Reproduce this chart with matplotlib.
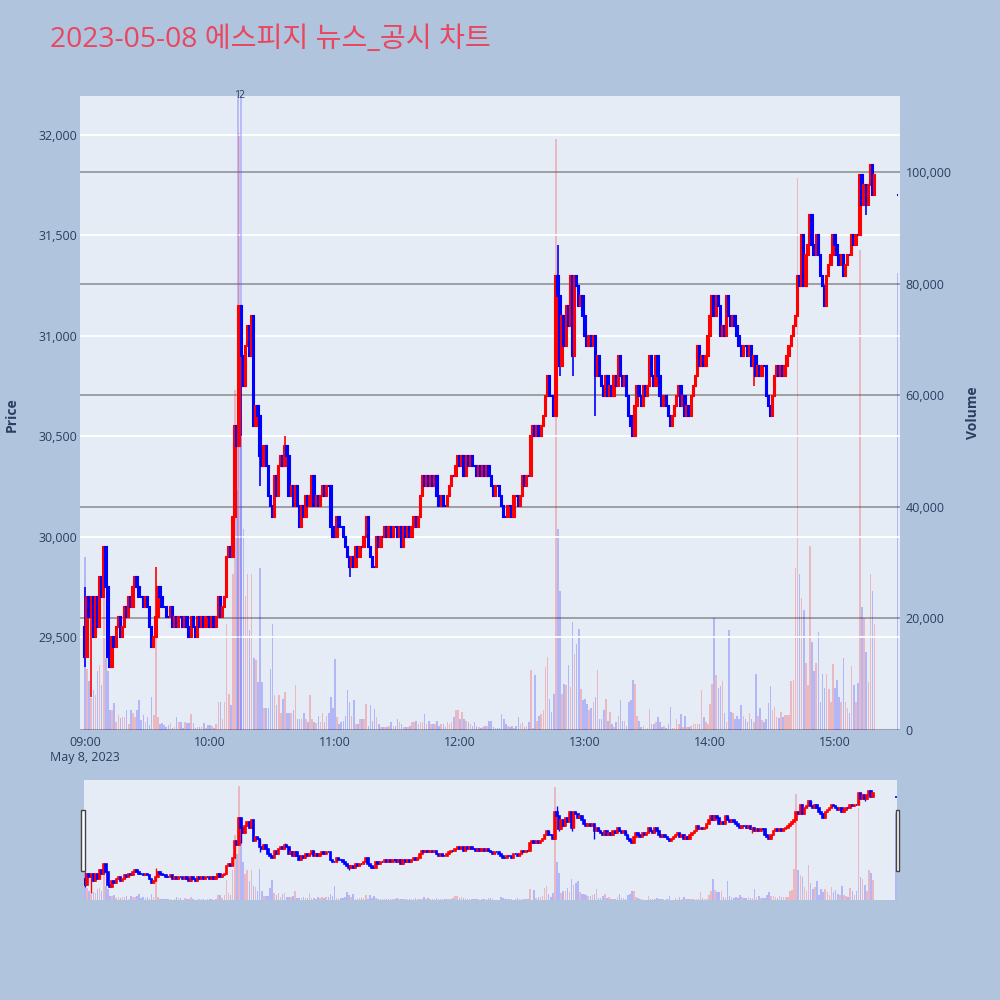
import numpy as np
import matplotlib
matplotlib.use("Agg")
import matplotlib.pyplot as plt
from matplotlib.patches import Rectangle
from matplotlib.ticker import FuncFormatter
import matplotlib.transforms as mtransforms

plt.rcParams["font.family"] = ["Open Sans", "Noto Sans CJK KR", "DejaVu Sans"]

title = "2023-05-08 에스피지 뉴스_공시 차트"

# 1-minute closes, minute 0 = 09:00
first_open = 29550
close_09 = [29400, 29700, 29600, 29700, 29500, 29700, 29550, 29800, 29700, 29950,
            29750, 29400, 29350, 29500, 29450, 29550, 29600, 29500, 29550, 29650,
            29600, 29700, 29650, 29750, 29800, 29750, 29700, 29700, 29650, 29700,
            29650, 29550, 29450, 29500, 29600, 29750, 29700, 29650, 29650, 29600,
            29600, 29650, 29550, 29600, 29550, 29600, 29600, 29550, 29600, 29550,
            29500, 29600, 29550, 29500, 29600, 29550, 29600, 29550, 29600, 29600]
close_10 = [29550, 29600, 29550, 29600, 29700, 29600, 29650, 29700, 29900, 29950,
            29900, 30100, 30550, 30450, 31150, 30900, 30750, 30950, 31050, 30900,
            31100, 30550, 30650, 30600, 30400, 30350, 30450, 30350, 30200, 30150,
            30100, 30300, 30200, 30350, 30400, 30350, 30450, 30400, 30200, 30250,
            30150, 30250, 30150, 30050, 30150, 30100, 30200, 30150, 30200, 30300,
            30150, 30200, 30150, 30200, 30250, 30200, 30250, 30250, 30050, 30000]
close_11 = [30000, 30100, 30050, 30050, 30000, 29950, 29900, 29850, 29900, 29850,
            29950, 29900, 29950, 29950, 30000, 30100, 29950, 29900, 29850, 29850,
            30000, 29950, 30000, 30000, 30050, 30000, 30050, 30000, 30050, 30050,
            30000, 30050, 29950, 30050, 30000, 30050, 30000, 30050, 30100, 30050,
            30100, 30200, 30300, 30250, 30300, 30250, 30300, 30250, 30300, 30200,
            30150, 30200, 30150, 30150, 30200, 30250, 30300, 30300, 30350, 30400]
close_12 = [30350, 30400, 30300, 30400, 30350, 30400, 30350, 30350, 30300, 30350,
            30300, 30350, 30300, 30350, 30300, 30250, 30200, 30250, 30250, 30200,
            30150, 30100, 30100, 30150, 30150, 30100, 30200, 30200, 30150, 30200,
            30300, 30250, 30300, 30300, 30500, 30550, 30500, 30550, 30500, 30550,
            30600, 30700, 30800, 30700, 30700, 30600, 31300, 31200, 30850, 31100,
            30950, 31150, 31050, 31300, 30900, 31300, 31250, 31150, 31200, 31100]
close_13 = [31000, 30950, 31000, 30950, 31000, 30800, 30900, 30800, 30750, 30700,
            30800, 30700, 30750, 30700, 30800, 30750, 30900, 30800, 30750, 30800,
            30700, 30600, 30550, 30500, 30650, 30750, 30700, 30650, 30750, 30700,
            30750, 30900, 30800, 30750, 30900, 30800, 30700, 30650, 30700, 30650,
            30600, 30550, 30600, 30650, 30700, 30750, 30650, 30700, 30600, 30650,
            30600, 30700, 30750, 30800, 30950, 30850, 30900, 30850, 30900, 31000]
close_14 = [31100, 31200, 31100, 31200, 31150, 31000, 31050, 31000, 31200, 31100,
            31050, 31100, 31050, 31000, 30950, 30900, 30950, 30950, 30900, 30950,
            30850, 30900, 30800, 30850, 30800, 30850, 30850, 30700, 30650, 30600,
            30700, 30800, 30850, 30800, 30850, 30800, 30850, 30900, 30950, 31000,
            31050, 31100, 31300, 31250, 31500, 31250, 31400, 31450, 31600, 31450,
            31400, 31500, 31400, 31300, 31250, 31150, 31300, 31350, 31400, 31500]
close_15 = [31450, 31400, 31350, 31400, 31300, 31350, 31400, 31400, 31500, 31450,
            31500, 31500, 31800, 31650, 31750, 31650, 31750, 31850, 31700, 31800]
auction_minute = 390          # 15:30 closing auction
auction_price = 31700

# long wicks (minute -> price)
wick_high = {0: 29750, 34: 29850, 96: 30500, 227: 31450}
wick_low = {0: 29350, 3: 29200, 75: 30500, 84: 30250, 127: 29800,
            228: 30800, 234: 30800, 245: 30600, 321: 30750, 375: 31600}

# volume, thousands of shares
vol_09 = [31, 11, 8.7, 5.7, 7.2, 6.3, 10.5, 11.7, 8.1, 32.6,
          12.9, 10.5, 3.6, 3.6, 4.8, 1.5, 2.7, 2.1, 2.4, 2.4,
          3.6, 1.0, 3.6, 3.0, 2.4, 3.6, 5.4, 1.8, 2.7, 1.5,
          2.4, 0.9, 6.0, 2.7, 20, 2.4, 1.0, 1.2, 0.9, 0.6,
          0.9, 1.2, 0.3, 0.6, 2.4, 1.5, 1.5, 0.3, 1.5, 1.2,
          1.2, 2.8, 1.2, 0.4, 0.6, 0.6, 0.6, 1.2, 0.3, 0.9]
vol_10 = [0.9, 0.8, 0.3, 1.1, 5, 5, 2, 5, 19, 6.5,
          4.4, 28, 61, 43, 107, 56, 36, 24, 28, 18,
          28, 13, 12.6, 8.6, 29, 8.6, 4, 4, 4, 11,
          19, 6.3, 4.4, 6.3, 3, 5.6, 6.8, 3, 3, 3,
          3.5, 8, 2, 2, 2, 3, 2, 1.5, 6.3, 2,
          1.5, 1.2, 2.5, 1.5, 3, 1.5, 2.5, 3, 6, 4]
vol_11 = [12.8, 2.3, 1.1, 1.5, 1.7, 2.6, 7.1, 5, 2.6, 5.3,
          1.1, 1.1, 2, 2, 2, 4.7, 0.8, 4.4, 1.7, 3.8,
          2.3, 1.1, 0.5, 0.5, 0.5, 0.5, 0.8, 1.4, 0.8, 0.8,
          2, 1.4, 1, 0.5, 0.5, 0.5, 0.8, 1.4, 1.4, 1.7,
          1.1, 1.4, 1.4, 2.9, 1.1, 1.7, 1.1, 1.1, 1.1, 1.7,
          0.8, 1.1, 1.1, 0.5, 1.4, 1.1, 1.4, 2.3, 3.5, 3.5]
vol_12 = [2, 3.2, 2, 1.7, 1.4, 1, 0.8, 1.4, 0.8, 0.5,
          0.3, 0.5, 0.8, 0.8, 1.7, 1.7, 0.5, 0.3, 0.3, 0.3,
          2.9, 2, 1.1, 0.8, 0.5, 0.8, 0.3, 0.8, 2.3, 1.1,
          1.4, 0.5, 0.8, 1.4, 10.7, 0.3, 9.8, 1.7, 2.6, 2.9,
          3.5, 11.3, 13.1, 5.6, 3.2, 6.5, 106, 36, 25, 6.5,
          8.3, 8, 11.6, 7.7, 19.4, 13.7, 15.5, 18.2, 7.4, 5.3]
vol_13 = [5.6, 4.7, 3.5, 4, 5, 5.9, 10.7, 2, 2, 3.5,
          5.6, 1.7, 3.2, 1.1, 0.5, 1.4, 2.6, 5.3, 1.7, 1.7,
          0.8, 5, 5.3, 8.9, 8.3, 2.6, 1.7, 0.5, 0.8, 0.2,
          0.3, 3.8, 1, 1.1, 1.4, 2.3, 1.4, 0.5, 0.8, 0.3,
          1, 4.1, 0.3, 0.3, 2, 1.1, 2.9, 0.5, 2.6, 0.5,
          0.5, 0.8, 1.1, 1.1, 1.1, 1, 7.1, 2.3, 1.4, 1.1]
vol_14 = [4.7, 8.3, 20, 9.8, 7.6, 7.9, 8.8, 3, 1.5, 18,
          3.3, 3, 2, 2.5, 2, 4.5, 2.5, 2, 1.5, 3,
          2, 1.5, 10, 2.5, 4, 1.8, 1.5, 2, 4.8, 7.9,
          3.6, 4.2, 2.4, 2.1, 3.3, 2.4, 2.7, 2.7, 2.7, 8.8,
          9, 29, 99, 28, 23.6, 21.5, 12, 8, 33, 15.8,
          10.6, 12, 17.6, 5, 10, 7.6, 10, 7.3, 5, 11.8]
vol_15 = [7.6, 9, 6, 5, 13, 5, 4, 3, 11.5, 8,
          5, 8.5, 86, 22, 20, 14, 8.6, 28, 25, 19]
auction_volume = 82

# news / disclosure times (minutes after 09:00)
news_minutes = [73.2, 75.1]
news_labels = ["1", "2"]

tick_minutes = [0, 60, 120, 180, 240, 300, 360]
tick_labels = ["09:00\nMay 8, 2023", "10:00", "11:00", "12:00", "13:00", "14:00", "15:00"]

# ---- assemble ----
closes = np.array(close_09 + close_10 + close_11 + close_12 + close_13 + close_14
                  + close_15 + [auction_price], dtype=float)
minutes = np.array(list(range(len(closes) - 1)) + [auction_minute], dtype=float)
opens = np.concatenate([[first_open], closes[:-1]])
opens[-1] = auction_price
highs = np.maximum(opens, closes)
lows = np.minimum(opens, closes)
for m, v in wick_high.items():
    highs[m] = v
for m, v in wick_low.items():
    lows[m] = v
volumes = np.array(vol_09 + vol_10 + vol_11 + vol_12 + vol_13 + vol_14 + vol_15
                   + [auction_volume]) * 1000

UP, DOWN = "#ff0000", "#0000ff"
up = closes > opens
cols = np.where(up, UP, DOWN)
vcols = [(1, 0, 0, 0.22) if u else (0, 0, 1, 0.22) for u in up]

BG = "#b0c4de"
PLOT_BG = "#e5ecf6"
TXT = "#2a3f5f"

fig = plt.figure(figsize=(10, 10), dpi=100, facecolor=BG)


def draw(ax_vol, ax_price, lw):
    ax_vol.bar(minutes, volumes, width=0.75, color=vcols, linewidth=0)
    ax_price.vlines(minutes, lows, highs, colors=cols, linewidth=lw * 0.8, zorder=3)
    ax_price.bar(minutes, closes - opens, bottom=opens, width=0.7, color=cols,
                 edgecolor=cols, linewidth=lw, zorder=4)


# ---- main panel ----
ax_v = fig.add_axes([0.08, 0.27, 0.82, 0.634])
ax_p = ax_v.twinx()
ax_v.set_facecolor(PLOT_BG)
draw(ax_v, ax_p, 1.5)

ax_v.set_xlim(-2.4, 391.2)
ax_v.set_ylim(0, 113700)
ax_p.set_ylim(29037, 32194)

ax_v.yaxis.tick_right()
ax_p.yaxis.tick_left()
ax_p.yaxis.set_label_position("left")
ax_v.set_yticks(range(0, 100001, 20000))
ax_p.set_yticks(range(29500, 32001, 500))
comma = FuncFormatter(lambda v, p: f"{int(v):,}")
ax_v.yaxis.set_major_formatter(comma)
ax_p.yaxis.set_major_formatter(comma)
ax_v.set_xticks(tick_minutes)
ax_v.set_xticklabels(tick_labels)

ax_v.grid(axis="y", color="#808080", linewidth=1.1, alpha=0.9)
ax_v.set_axisbelow(True)
ax_p.grid(axis="y", color="white", linewidth=1.3)
ax_p.set_axisbelow(True)

for a in (ax_v, ax_p):
    for s in a.spines.values():
        s.set_visible(False)
    a.tick_params(length=0, labelsize=9, labelcolor=TXT)
ax_v.tick_params(axis="x", pad=4)
ax_v.tick_params(axis="y", pad=4)
ax_p.tick_params(axis="y", pad=2)

trans = mtransforms.blended_transform_factory(ax_p.transData, ax_p.transAxes)
for m, lab in zip(news_minutes, news_labels):
    ax_p.axvline(m, color=(0.35, 0.35, 1.0, 0.35), linewidth=1.3, zorder=2)
    ax_p.text(m, 1.0, lab, transform=trans, ha="center", va="center",
              fontsize=7.5, color=TXT, zorder=6)

fig.text(0.012, 0.585, "Price", rotation=90, ha="center", va="center",
         fontsize=10, fontweight="bold", color=TXT)
fig.text(0.973, 0.587, "Volume", rotation=90, ha="center", va="center",
         fontsize=10, fontweight="bold", color=TXT)
fig.text(0.05, 0.96, title, ha="left", va="center", fontsize=20.3, color="#e8475f")

# ---- range slider ----
ax_s = fig.add_axes([0.084, 0.10, 0.813, 0.12])
ax_s2 = ax_s.twinx()
ax_s.set_facecolor(PLOT_BG)
draw(ax_s, ax_s2, 1.2)
ax_s.set_xlim(-0.5, 390.5)
ax_s.set_ylim(0, 112600)
ax_s2.set_ylim(29010, 32140)
for a in (ax_s, ax_s2):
    a.set_xticks([])
    a.set_yticks([])
    for s in a.spines.values():
        s.set_visible(False)

for hx in (0.0812, 0.8955):
    fig.patches.append(Rectangle((hx, 0.129), 0.0038, 0.061, transform=fig.transFigure,
                                 facecolor="white", edgecolor="#444444", linewidth=1))

fig.savefig("out.png", dpi=100, facecolor=BG)
